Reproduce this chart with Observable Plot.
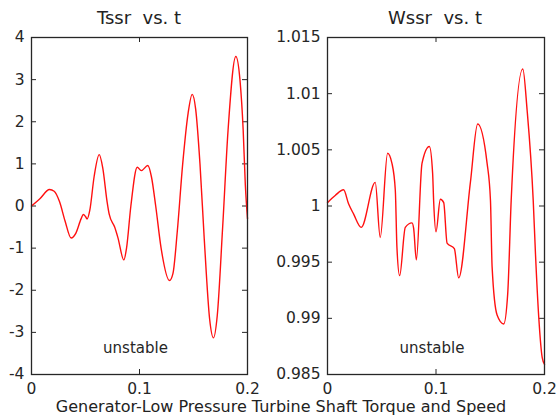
<!DOCTYPE html>
<html>
<head>
<meta charset="utf-8">
<script src="https://cdn.jsdelivr.net/npm/d3@7"></script>
<script src="https://cdn.jsdelivr.net/npm/@observablehq/plot@0.6"></script>
<style>
  html, body { margin: 0; padding: 0; background: #fff; }
  #wrap { position: relative; width: 556px; height: 417px; overflow: hidden; background: #fff; font-family: "DejaVu Sans", sans-serif; color: #222; }
  #wrap svg { position: absolute; left: 0; top: 0; }
  .ttl { position: absolute; font-size: 18px; white-space: pre; transform: translateX(-50%); line-height: 1; }
  .cap { position: absolute; font-size: 16px; white-space: pre; transform: translateX(-50%); line-height: 1; }
</style>
</head>
<body>
<div id="wrap"></div>
<script>
// ---- data ----
const tT = [0, 0.008, 0.0167, 0.021, 0.026, 0.031, 0.0367, 0.041, 0.046, 0.048, 0.050, 0.0515, 0.054, 0.058, 0.0627, 0.066, 0.070, 0.072, 0.077, 0.080, 0.0855, 0.088, 0.092, 0.0979, 0.1016, 0.1077, 0.111, 0.115, 0.120, 0.1278, 0.131, 0.135, 0.140, 0.145, 0.1488, 0.152, 0.156, 0.160, 0.165, 0.1685, 0.172, 0.177, 0.182, 0.1892, 0.193, 0.196, 0.198, 0.2];
const Tssr = [0, 0.18, 0.39, 0.35, 0.1, -0.35, -0.76, -0.65, -0.3, -0.2, -0.25, -0.31, -0.1, 0.7, 1.22, 0.9, 0.1, -0.2, -0.5, -0.75, -1.28, -1.0, 0.0, 0.92, 0.84, 0.96, 0.7, 0.0, -1.0, -1.77, -1.6, -0.6, 1.0, 2.2, 2.65, 2.3, 1.0, -0.8, -2.7, -3.13, -2.6, -0.5, 1.8, 3.55, 3.0, 1.8, 0.5, -0.3];

const tW = [0, 0.0071, 0.0148, 0.0194, 0.024, 0.0311, 0.044, 0.0486, 0.0554, 0.0594, 0.0625, 0.064, 0.0665, 0.0717, 0.0779, 0.0794, 0.0819, 0.0871, 0.0939, 0.0969, 0.0978, 0.1, 0.104, 0.1071, 0.1102, 0.1169, 0.1209, 0.1317, 0.1384, 0.1471, 0.1502, 0.1517, 0.1563, 0.1624, 0.1661, 0.1693, 0.18, 0.184, 0.1896, 0.1917, 0.1947, 0.1979, 0.2];
const Wssr = [1.0003, 1.00094, 1.00144, 1.0002, 0.9993, 0.9981, 1.0021, 0.9972, 1.0047, 1.0038, 1.0014, 0.9963, 0.9938, 0.9981, 0.9985, 0.998, 0.9952, 1.0038, 1.0053, 1.0029, 1.0005, 0.9977, 1.0006, 1.0003, 0.9967, 0.9962, 0.9936, 1.0021, 1.0073, 1.0038, 1.0005, 0.9946, 0.9903, 0.9895, 0.9922, 1.0005, 1.0122, 1.0085, 1.0005, 0.9957, 0.9901, 0.9865, 0.9859];

const xTicks = [0, 0.1, 0.2];
const xTickLabels = ["0", "0.1", "0.2"];
const yTicksT = [-4, -3, -2, -1, 0, 1, 2, 3, 4];
const yTickLabelsT = ["-4", "-3", "-2", "-1", "0", "1", "2", "3", "4"];
const yTicksW = [0.985, 0.99, 0.995, 1, 1.005, 1.01, 1.015];
const yTickLabelsW = ["0.985", "0.99", "0.995", "1", "1.005", "1.01", "1.015"];

const titles = ["Tssr  vs. t", "Wssr  vs. t"];
const note = "unstable";
const caption = "Generator-Low Pressure Turbine Shaft Torque and Speed";

// ---- drawing ----
const W = 556, H = 417;
const wrap = document.getElementById("wrap");
const ink = "#262626";

function panel(t, v, yDomain, yTicks, yLabels, m) {
  const fw = W - m.left - m.right, fh = H - m.top - m.bottom, tl = 5;
  const rows = t.map((d, i) => ({t: d, v: v[i]}));
  return Plot.plot({
    width: W, height: H,
    marginLeft: m.left, marginRight: m.right, marginTop: m.top, marginBottom: m.bottom,
    style: {fontFamily: "DejaVu Sans, sans-serif", fontSize: "15px", color: ink, background: "transparent"},
    x: {domain: [0, 0.2]},
    y: {domain: yDomain},
    marks: [
      Plot.axisX(xTicks, {tickSize: 0, tickPadding: 8, tickFormat: (d, i) => xTickLabels[i], fill: ink, fontSize: 15.5, label: null}),
      Plot.axisY(yTicks, {tickSize: 0, tickPadding: 7, tickFormat: (d, i) => yLabels[i], fill: ink, fontSize: 15.5, label: null}),
      Plot.tickX(xTicks, {x: d => d, insetTop: fh - tl, stroke: ink}),
      Plot.tickX(xTicks, {x: d => d, insetBottom: fh - tl, stroke: ink}),
      Plot.tickY(yTicks, {y: d => d, insetRight: fw - tl, stroke: ink}),
      Plot.tickY(yTicks, {y: d => d, insetLeft: fw - tl, stroke: ink}),
      Plot.line(rows, {x: "t", y: "v", stroke: "#ff1010", strokeWidth: 1.4, curve: "monotone-x"}),
      Plot.text([note], {frameAnchor: "bottom", dx: -4, dy: -22, text: d => d, fill: ink, fontSize: 15}),
      Plot.frame({stroke: ink, strokeWidth: 1.3})
    ]
  });
}

wrap.appendChild(panel(tT, Tssr, [-4, 4], yTicksT, yTickLabelsT, {left: 31, right: 309, top: 37, bottom: 43}));
wrap.appendChild(panel(tW, Wssr, [0.985, 1.015], yTicksW, yTickLabelsW, {left: 327, right: 12, top: 37, bottom: 43}));

function addText(cls, txt, x, y) {
  const d = document.createElement("div");
  d.className = cls; d.textContent = txt;
  d.style.left = x + "px"; d.style.top = y + "px";
  wrap.appendChild(d);
}
addText("ttl", titles[0], 139, 9);
addText("ttl", titles[1], 435, 9);
addText("cap", caption, 281, 399);
</script>
</body>
</html>
